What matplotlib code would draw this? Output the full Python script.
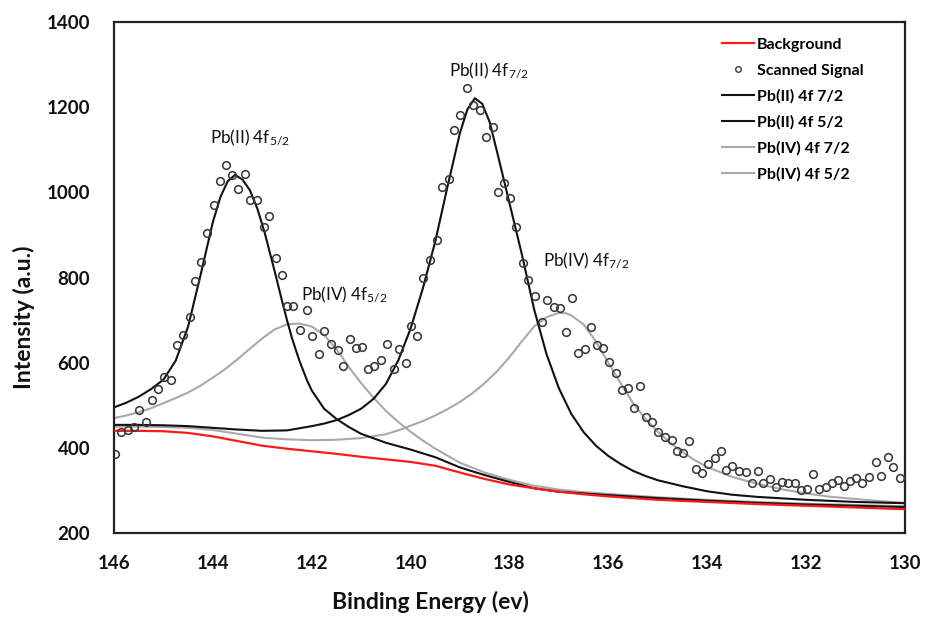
import matplotlib
matplotlib.use("Agg")
import matplotlib.pyplot as plt
from matplotlib.lines import Line2D

plt.rcParams['font.family'] = ['Lato', 'DejaVu Sans']
plt.rcParams['mathtext.fontset'] = 'custom'
plt.rcParams['mathtext.rm'] = 'Lato'
plt.rcParams['mathtext.it'] = 'Lato:italic'
plt.rcParams['mathtext.bf'] = 'Lato:bold'

# ---------------- DATA ----------------
# scanned signal (binding energy in eV, counts)
sig_E = [145.97, 145.86, 145.72, 145.60, 145.49, 145.35, 145.24, 145.10, 144.99, 144.85,
         144.72, 144.60, 144.46, 144.36, 144.23, 144.11, 143.98, 143.85, 143.73, 143.61,
         143.49, 143.35, 143.24, 143.11, 142.96, 142.86, 142.72, 142.61, 142.49, 142.37,
         142.23, 142.10, 141.99, 141.85, 141.75, 141.61, 141.46, 141.36, 141.23, 141.11,
         140.98, 140.87, 140.73, 140.60, 140.48, 140.34, 140.24, 140.10, 140.00, 139.86,
         139.74, 139.61, 139.47, 139.36, 139.22, 139.12, 139.00, 138.85, 138.73, 138.60,
         138.48, 138.34, 138.23, 138.11, 137.98, 137.86, 137.72, 137.62, 137.48, 137.34,
         137.25, 137.10, 136.98, 136.86, 136.74, 136.61, 136.47, 136.36, 136.22, 136.10,
         135.98, 135.85, 135.73, 135.60, 135.48, 135.35, 135.24, 135.11, 134.99, 134.86,
         134.72, 134.61, 134.49, 134.36, 134.23, 134.10, 133.98, 133.84, 133.73, 133.61,
         133.49, 133.35, 133.22, 133.10, 132.97, 132.87, 132.73, 132.61, 132.48, 132.36,
         132.23, 132.10, 131.98, 131.86, 131.74, 131.60, 131.47, 131.36, 131.23, 131.11,
         130.98, 130.86, 130.73, 130.59, 130.49, 130.35, 130.24, 130.10]
sig_I = [386, 438, 442, 450, 489, 460, 513, 538, 566, 559,
         642, 666, 707, 793, 837, 905, 971, 1027, 1064, 1040,
         1009, 1044, 983, 983, 918, 944, 845, 806, 732, 732,
         677, 724, 663, 620, 674, 643, 630, 593, 656, 634,
         638, 586, 593, 606, 645, 586, 632, 599, 685, 663,
         798, 841, 887, 1012, 1031, 1146, 1182, 1244, 1205, 1193,
         1129, 1153, 1002, 1021, 986, 919, 833, 794, 757, 695,
         747, 730, 729, 671, 751, 622, 632, 683, 642, 634,
         601, 575, 536, 541, 494, 546, 472, 460, 437, 426,
         418, 392, 387, 415, 350, 340, 362, 377, 393, 348,
         357, 346, 343, 317, 346, 317, 327, 307, 321, 318,
         318, 301, 303, 338, 303, 307, 317, 325, 311, 322,
         330, 318, 332, 366, 335, 379, 356, 330]

# background
bg_E = [146, 145.5, 145, 144.5, 144, 143.5, 143, 142.5, 142, 141.5, 141, 140.5, 140,
        139.5, 139, 138.5, 138, 137.5, 137, 136.5, 136, 135, 134, 133, 132, 131, 130]
bg_I = [440, 440, 439, 435, 427, 416, 405, 398, 392, 386, 379, 373, 367,
        358, 342, 327, 314, 305, 297, 291, 286, 278, 273, 268, 264, 260, 256]

# Pb(II) 4f 5/2
p25_E = [146, 145.75, 145.5, 145.25, 145, 144.75, 144.5, 144.25, 144, 143.85, 143.7,
         143.55, 143.4, 143.25, 143.1, 142.95, 142.75, 142.6, 142.5, 142.4, 142.25,
         142.1, 142, 141.75, 141.5, 141.25, 141, 140.5, 140, 139.5, 139, 138.5, 138,
         137.5, 137, 136, 135, 134, 133, 132, 131, 130]
p25_I = [495, 506, 520, 538, 560, 605, 685, 805, 930, 988, 1026,
         1041, 1030, 1005, 962, 905, 815, 745, 700, 658, 605,
         560, 535, 492, 468, 449, 433, 412, 396, 378, 354, 336, 320,
         305, 297, 289, 282, 276, 271, 267, 264, 261]

# Pb(II) 4f 7/2
p27_E = [146, 145.5, 145, 144.5, 144, 143.5, 143, 142.5, 142.25, 142, 141.75, 141.5,
         141.25, 141, 140.75, 140.5, 140.25, 140, 139.75, 139.5, 139.25, 139, 138.85,
         138.7, 138.55, 138.4, 138.25, 138, 137.75, 137.5, 137.25, 137, 136.75, 136.5,
         136.25, 136, 135.75, 135.5, 135.25, 135, 134.5, 134, 133.5, 133, 132, 131, 130]
p27_I = [454, 454, 453, 451, 447, 443, 440, 441, 446, 451, 457, 465,
         477, 492, 515, 550, 605, 680, 775, 885, 1015, 1140, 1195,
         1221, 1208, 1165, 1095, 975, 855, 725, 620, 540, 480, 437,
         405, 381, 362, 346, 334, 324, 310, 298, 290, 285, 278, 273, 270]

# Pb(IV) 4f 5/2
p45_E = [146, 145.75, 145.5, 145.25, 145, 144.75, 144.5, 144.25, 144, 143.75, 143.5,
         143.25, 143, 142.75, 142.5, 142.25, 142, 141.75, 141.5, 141.25, 141, 140.75,
         140.5, 140.25, 140, 139.75, 139.5, 139, 138.5, 138, 137.5, 137, 136.5, 136,
         135.5, 135, 134, 133, 132, 131, 130]
p45_I = [470, 476, 484, 493, 505, 517, 530, 546, 565, 585, 608,
         633, 657, 678, 690, 692, 685, 665, 632, 590, 552, 518,
         487, 461, 438, 417, 398, 365, 342, 325, 311, 302, 296, 292,
         288, 284, 278, 273, 269, 266, 263]

# Pb(IV) 4f 7/2
p47_E = [146, 145.5, 145, 144.5, 144, 143.5, 143, 142.5, 142, 141.5, 141, 140.5, 140.25,
         140, 139.75, 139.5, 139.25, 139, 138.75, 138.5, 138.25, 138, 137.75, 137.5,
         137.25, 137, 136.85, 136.75, 136.5, 136.25, 136, 135.75, 135.5, 135.25, 135,
         134.75, 134.5, 134.25, 134, 133.5, 133, 132.5, 132, 131.5, 131, 130.5, 130]
p47_I = [450, 450, 449, 447, 442, 433, 424, 420, 418, 419, 423, 432, 441,
         452, 463, 476, 491, 508, 528, 552, 580, 613, 650, 685,
         707, 717, 716, 711, 690, 650, 600, 552, 505, 468, 438,
         412, 390, 371, 355, 332, 316, 303, 293, 285, 280, 275, 271]

peak_labels = ['Pb(II) 4f$_{\\mathregular{5/2}}$', 'Pb(IV) 4f$_{\\mathregular{5/2}}$',
               'Pb(II) 4f$_{\\mathregular{7/2}}$', 'Pb(IV) 4f$_{\\mathregular{7/2}}$']
peak_label_E = [143.25, 141.35, 138.42, 136.45]
peak_label_I = [1130, 762, 1287, 840]
# ---------------------------------------

fig = plt.figure(figsize=(9.25, 6.17), dpi=100)
ax = fig.add_axes([0.1232, 0.1361, 0.8551, 0.8282])

RED = '#ff1a1a'
BLACK = '#111111'
GREY = '#a9a9a9'

ax.plot(bg_E, bg_I, color=RED, lw=1.6, zorder=3)
ax.plot(p45_E, p45_I, color=GREY, lw=1.5, zorder=2)
ax.plot(p47_E, p47_I, color=GREY, lw=1.5, zorder=2)
ax.plot(p25_E, p25_I, color=BLACK, lw=1.5, zorder=2)
ax.plot(p27_E, p27_I, color=BLACK, lw=1.5, zorder=2)
ax.plot(sig_E, sig_I, ls='none', marker='o', ms=5.5, mfc='none',
        mec='#3a3a3a', mew=1.15, zorder=4)

for txt, x, y in zip(peak_labels, peak_label_E, peak_label_I):
    ax.text(x, y, txt, ha='center', va='center', fontsize=12.3, color='#111111')

ax.set_xlim(146, 130)
ax.set_ylim(200, 1400)
ax.set_xticks(range(146, 129, -2))
ax.set_yticks(range(200, 1401, 200))
ax.tick_params(length=0, labelsize=13.5, colors='#111111')
ax.tick_params(axis='x', pad=16)
ax.tick_params(axis='y', pad=17)
for lab in ax.get_xticklabels() + ax.get_yticklabels():
    lab.set_fontweight('bold')

for sp in ax.spines.values():
    sp.set_linewidth(1.6)
    sp.set_color('#222222')

ax.set_xlabel('Binding Energy (ev)', fontsize=16.5, fontweight='bold', color='#111111')
ax.set_ylabel('Intensity (a.u.)', fontsize=16.5, fontweight='bold', color='#111111')
ax.xaxis.set_label_coords(0.40, -0.113)
ax.yaxis.set_label_coords(-0.10, 0.423)

handles = [
    Line2D([], [], color=RED, lw=1.6),
    Line2D([], [], ls='none', marker='o', ms=4, mfc='none', mec='#3a3a3a', mew=1.0),
    Line2D([], [], color=BLACK, lw=1.5),
    Line2D([], [], color=BLACK, lw=1.5),
    Line2D([], [], color=GREY, lw=1.5),
    Line2D([], [], color=GREY, lw=1.5),
]
names = ['Background', 'Scanned Signal', 'Pb(II) 4f 7/2', 'Pb(II) 4f 5/2',
         'Pb(IV) 4f 7/2', 'Pb(IV) 4f 5/2']
leg = ax.legend(handles, names, loc='upper left', bbox_to_anchor=(0.769, 0.969),
                frameon=False, borderpad=0, borderaxespad=0, handlelength=2.0,
                handletextpad=0.15, labelspacing=0.72,
                prop={'weight': 'bold', 'size': 11.5})

fig.savefig('out.png', dpi=100)
